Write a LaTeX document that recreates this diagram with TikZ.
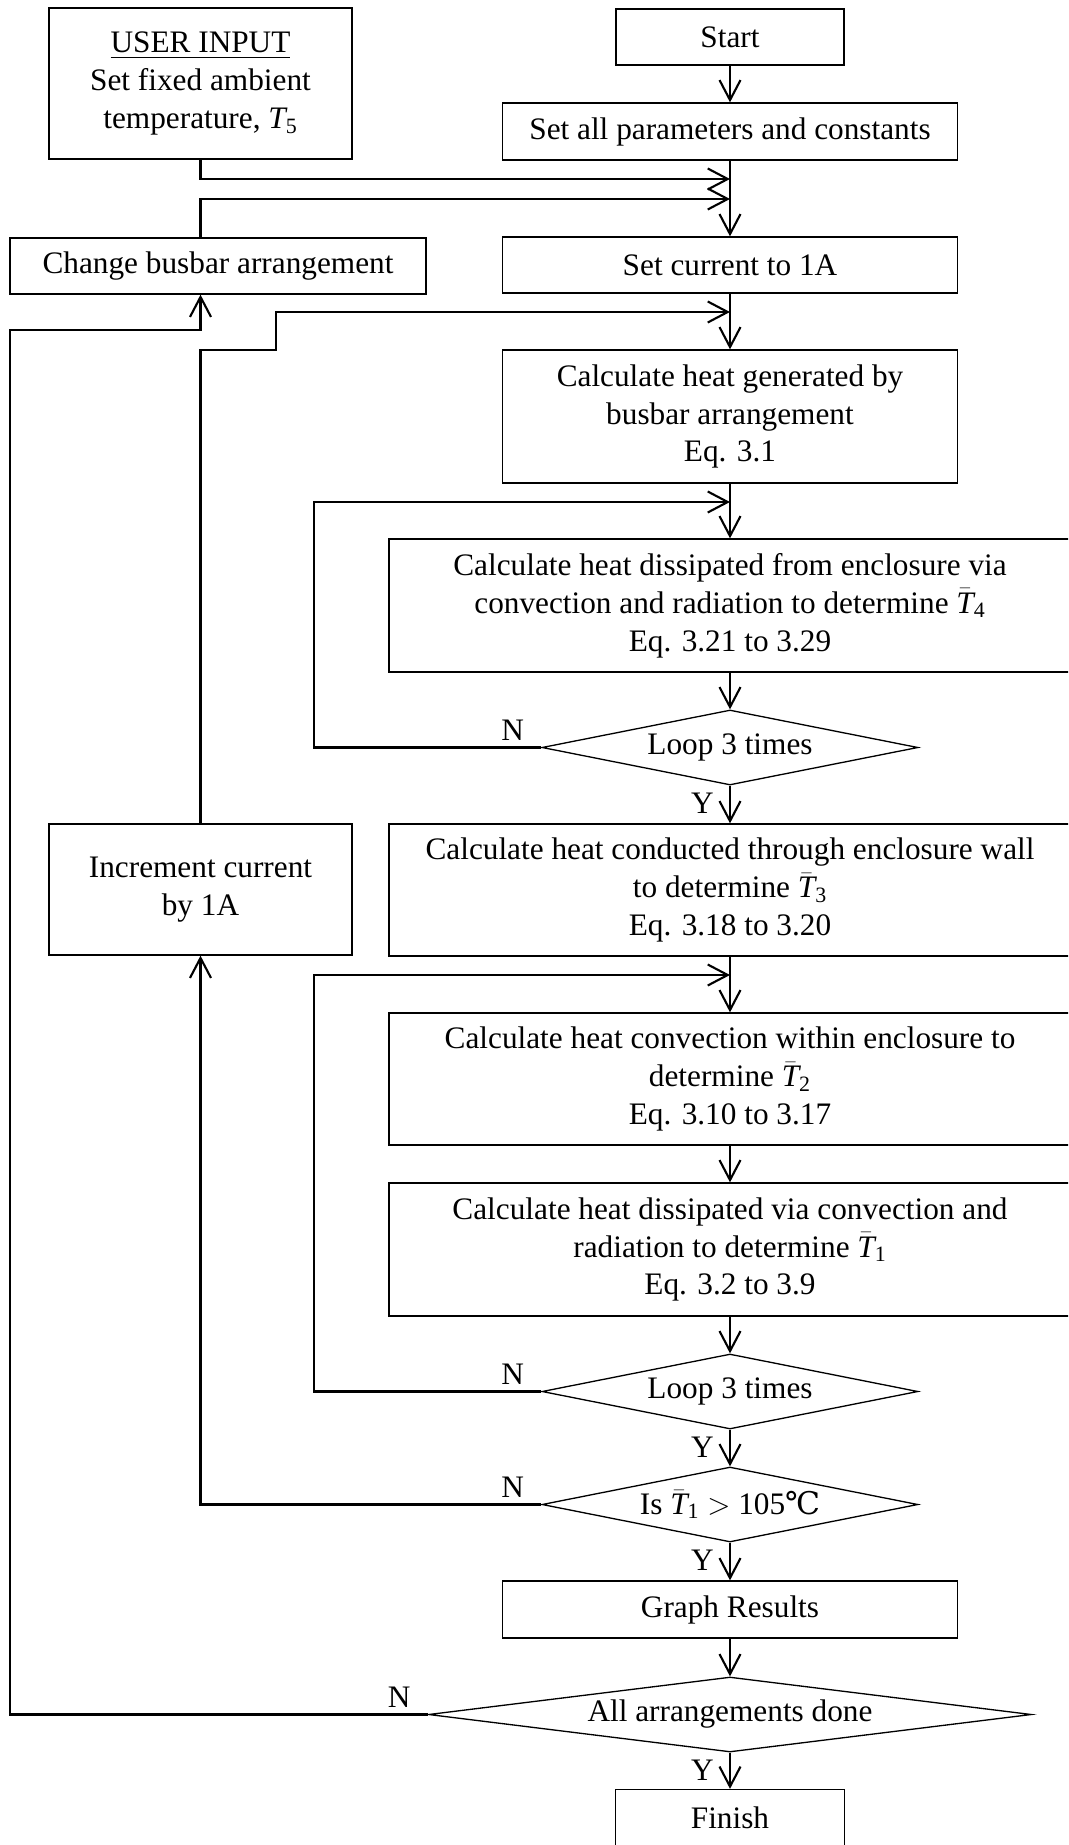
\documentclass[tikz,border=0pt]{standalone}
\usepackage{fontspec}
\setmainfont{Liberation Serif}
\newfontfamily\degfont{DejaVu Serif}
\usepackage{amsmath}
\usetikzlibrary{shapes.geometric,arrows.meta}

\newcommand{\Tbar}[1]{$\bar{\textit{T}}_{\text{#1}}$}

\begin{document}
\begin{tikzpicture}[
  % flowchart styles
  block/.style={rectangle,draw=black,line width=0.75pt,align=center,inner sep=0pt,
    font=\fontsize{17.8}{21.6}\selectfont},
  decision/.style={diamond,draw=black,line width=0.75pt,align=center,inner sep=0pt,
    font=\fontsize{17.8}{21.6}\selectfont},
  lbl/.style={inner sep=0pt,font=\fontsize{17.8}{21.6}\selectfont},
  line/.style={draw=black,line width=1.2pt},
  flow/.style={line,-{Straight Barb[length=4mm,width=4.2mm]}}
]
\useasboundingbox (0,0) rectangle (21.36,-36.9);
\clip (0,0) rectangle (21.36,-36.9);

\node[block,minimum width=6.06cm,minimum height=3.02cm] (userin) at (4.01,-1.67)
  {\underline{USER INPUT}\\Set fixed ambient\\temperature, $\textit{T}_{\text{5}}$};
\node[block,minimum width=4.56cm,minimum height=1.12cm] (start) at (14.6,-0.74) {Start};
\node[block,minimum width=9.1cm,minimum height=1.14cm] (params) at (14.6,-2.63)
  {Set all parameters and constants};
\node[block,minimum width=8.32cm,minimum height=1.12cm] (busbar) at (4.36,-5.32)
  {Change busbar arrangement};
\node[block,minimum width=9.1cm,minimum height=1.12cm] (setcur) at (14.6,-5.3)
  {Set current to 1A};
\node[block,minimum width=9.1cm,minimum height=2.66cm] (heatgen) at (14.6,-8.33)
  {Calculate heat generated by\\busbar arrangement\\Eq. 3.1};
\node[block,minimum width=13.64cm,minimum height=2.66cm] (encl) at (14.6,-12.11)
  {Calculate heat dissipated from enclosure via\\convection and radiation to determine \Tbar{4}\\Eq. 3.21 to 3.29};
\node[decision,minimum width=7.52cm,minimum height=1.5cm,aspect=5] (loopA) at (14.6,-14.95)
  {Loop 3 times};
\node[block,minimum width=6.06cm,minimum height=2.62cm] (incr) at (4.01,-17.79)
  {Increment current\\by 1A};
\node[block,minimum width=13.64cm,minimum height=2.64cm] (cond) at (14.6,-17.8)
  {Calculate heat conducted through enclosure wall\\to determine \Tbar{3}\\Eq. 3.18 to 3.20};
\node[block,minimum width=13.64cm,minimum height=2.64cm] (conv) at (14.6,-21.58)
  {Calculate heat convection within enclosure to\\determine \Tbar{2}\\Eq. 3.10 to 3.17};
\node[block,minimum width=13.64cm,minimum height=2.66cm] (diss) at (14.6,-24.99)
  {Calculate heat dissipated via convection and\\radiation to determine \Tbar{1}\\Eq. 3.2 to 3.9};
\node[decision,minimum width=7.52cm,minimum height=1.5cm,aspect=5] (loopB) at (14.6,-27.83)
  {Loop 3 times};
\node[decision,minimum width=7.52cm,minimum height=1.5cm,aspect=5] (istemp) at (14.6,-30.09)
  {Is \Tbar{1} $>$ 105{\degfont ℃}};
\node[block,minimum width=9.1cm,minimum height=1.14cm] (graph) at (14.6,-32.19)
  {Graph Results};
\node[decision,minimum width=12.06cm,minimum height=1.5cm,aspect=8] (alldone) at (14.6,-34.29)
  {All arrangements done};
\node[block,minimum width=4.58cm,minimum height=1.12cm] (finish) at (14.6,-36.35) {Finish};

% junction points on the main line
\coordinate (inA) at (14.6,-3.58);
\coordinate (inB) at (14.6,-3.98);
\coordinate (inC) at (14.6,-6.24);
\coordinate (inD) at (14.6,-10.04);
\coordinate (inE) at (14.6,-19.5);

% main column
\draw[flow] (start) -- (params);
\draw[flow] (params) -- (setcur);
\draw[flow] (setcur) -- (heatgen);
\draw[flow] (heatgen) -- (encl);
\draw[flow] (encl) -- (loopA);
\draw[flow] (loopA) -- (cond);
\draw[flow] (cond) -- (conv);
\draw[flow] (conv) -- (diss);
\draw[flow] (diss) -- (loopB);
\draw[flow] (loopB) -- (istemp);
\draw[flow] (istemp) -- (graph);
\draw[flow] (graph) -- (alldone);
\draw[flow] (alldone) -- (finish);

% side inputs
\draw[flow] (userin.south) |- (inA);
\draw[flow] (busbar.north -| userin.south) |- (inB);
\draw[flow] (incr.north) |- (5.52,-7.0) |- (inC);

% loops back
\draw[flow] (loopA.west) -| (6.28,-10.04) -- (inD);
\draw[flow] (loopB.west) -| (6.28,-19.5) -- (inE);
\draw[flow] (istemp.west) -| (incr.south);
\draw[flow] (alldone.west) -| (0.2,-6.6) -| (busbar.south -| userin.south);

% N / Y labels
\node[lbl,anchor=base east] (nA) at ([shift={(-0.34,0.14)}]loopA.west) {N};
\node[lbl,anchor=base east] (yA) at ([shift={(-0.32,-0.56)}]loopA.south) {Y};
\node[lbl,anchor=base east] (nB) at ([shift={(-0.34,0.14)}]loopB.west) {N};
\node[lbl,anchor=base east] (yB) at ([shift={(-0.32,-0.56)}]loopB.south) {Y};
\node[lbl,anchor=base east] (nC) at ([shift={(-0.34,0.14)}]istemp.west) {N};
\node[lbl,anchor=base east] (yC) at ([shift={(-0.32,-0.56)}]istemp.south) {Y};
\node[lbl,anchor=base east] (nD) at ([shift={(-0.34,0.14)}]alldone.west) {N};
\node[lbl,anchor=base east] (yD) at ([shift={(-0.32,-0.56)}]alldone.south) {Y};

\end{tikzpicture}
\end{document}
